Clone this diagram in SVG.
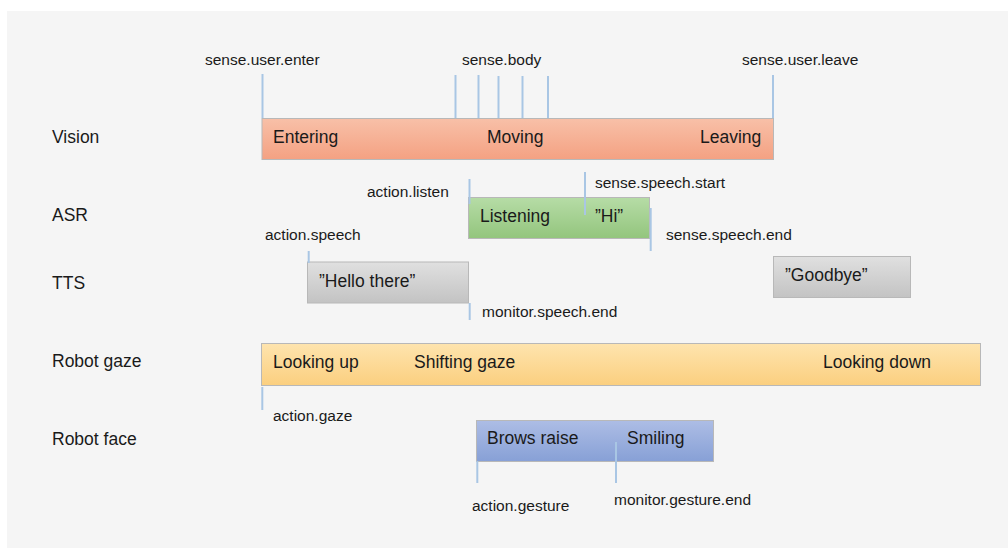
<svg xmlns="http://www.w3.org/2000/svg" width="1008" height="548" viewBox="0 0 1008 548">
<defs>
<linearGradient id="gOrange" x1="0" y1="0" x2="0" y2="1"><stop offset="0" stop-color="#f8c0a8"/><stop offset="1" stop-color="#f4a182"/></linearGradient>
<linearGradient id="gGreen" x1="0" y1="0" x2="0" y2="1"><stop offset="0" stop-color="#b6dca6"/><stop offset="1" stop-color="#93c57d"/></linearGradient>
<linearGradient id="gGrey" x1="0" y1="0" x2="0" y2="1"><stop offset="0" stop-color="#e0e0e0"/><stop offset="1" stop-color="#c3c3c3"/></linearGradient>
<linearGradient id="gYellow" x1="0" y1="0" x2="0" y2="1"><stop offset="0" stop-color="#fee4ae"/><stop offset="1" stop-color="#fbcf7f"/></linearGradient>
<linearGradient id="gBlue" x1="0" y1="0" x2="0" y2="1"><stop offset="0" stop-color="#adbde5"/><stop offset="1" stop-color="#87a0d6"/></linearGradient>
</defs>
<style>
text{font-family:"Liberation Sans",Arial,sans-serif;fill:#1a1a1a}
.row{font-size:17.5px}
.big{font-size:17.5px}
.small{font-size:15.5px}
.bar{stroke:#b8b8b8;stroke-width:1}
.tick{stroke:#a9c6e4;stroke-width:2}
</style>
<rect x="7" y="11" width="1001" height="537" fill="#f5f5f5"/>
<g id="row-labels">
<text class="row" x="52" y="143">Vision</text>
<text class="row" x="52" y="221">ASR</text>
<text class="row" x="52" y="289">TTS</text>
<text class="row" x="52" y="367">Robot gaze</text>
<text class="row" x="52" y="445">Robot face</text>
</g>
<g id="vision">
<rect class="bar" x="262" y="118.5" width="511.5" height="41" fill="url(#gOrange)"/>
<text class="big" x="273" y="143">Entering</text>
<text class="big" x="487" y="143">Moving</text>
<text class="big" x="700" y="143">Leaving</text>
</g>
<g id="asr">
<rect class="bar" x="468.5" y="197.5" width="181" height="41" fill="url(#gGreen)"/>
<text class="big" x="480" y="222">Listening</text>
<text class="big" x="595" y="222">”Hi”</text>
</g>
<g id="tts-hello">
<rect class="bar" x="307.5" y="262" width="161" height="41" fill="url(#gGrey)"/>
<text class="big" x="319" y="287">”Hello there”</text>
</g>
<g id="tts-goodbye">
<rect class="bar" x="773.5" y="256.5" width="137" height="41" fill="url(#gGrey)"/>
<text class="big" x="785" y="281">”Goodbye”</text>
</g>
<g id="gaze">
<rect class="bar" x="261.5" y="343.5" width="719" height="42" fill="url(#gYellow)"/>
<text class="big" x="273" y="368">Looking up</text>
<text class="big" x="414" y="368">Shifting gaze</text>
<text class="big" x="823" y="368">Looking down</text>
</g>
<g id="face">
<rect class="bar" x="476.5" y="420.5" width="237" height="41" fill="url(#gBlue)"/>
<text class="big" x="487" y="444">Brows raise</text>
<text class="big" x="627" y="444">Smiling</text>
</g>
<g id="connectors">
<line class="tick" x1="262.5" y1="74" x2="262.5" y2="118"/>
<line class="tick" x1="773" y1="75" x2="773" y2="118"/>
<line class="tick" x1="455.5" y1="75" x2="455.5" y2="118"/>
<line class="tick" x1="478.5" y1="75" x2="478.5" y2="118"/>
<line class="tick" x1="498.5" y1="76" x2="498.5" y2="118"/>
<line class="tick" x1="522.5" y1="76" x2="522.5" y2="118"/>
<line class="tick" x1="548" y1="76" x2="548" y2="118"/>
<line class="tick" x1="469.5" y1="179" x2="469.5" y2="204"/>
<line class="tick" x1="585" y1="172" x2="585" y2="215"/>
<line class="tick" x1="650.7" y1="208" x2="650.7" y2="251"/>
<line class="tick" x1="308.7" y1="251" x2="308.7" y2="263"/>
<line class="tick" x1="469.7" y1="303" x2="469.7" y2="320"/>
<line class="tick" x1="262.3" y1="387" x2="262.3" y2="410"/>
<line class="tick" x1="477.3" y1="461" x2="477.3" y2="483"/>
<line class="tick" x1="616" y1="442" x2="616" y2="483"/>
</g>
<g id="event-labels">
<text class="small" x="205" y="65">sense.user.enter</text>
<text class="small" x="462" y="65">sense.body</text>
<text class="small" x="742" y="65">sense.user.leave</text>
<text class="small" x="367" y="197">action.listen</text>
<text class="small" x="595" y="188">sense.speech.start</text>
<text class="small" x="265" y="240">action.speech</text>
<text class="small" x="666" y="240">sense.speech.end</text>
<text class="small" x="482" y="317">monitor.speech.end</text>
<text class="small" x="273" y="421">action.gaze</text>
<text class="small" x="472" y="511">action.gesture</text>
<text class="small" x="614" y="505">monitor.gesture.end</text>
</g>
</svg>
